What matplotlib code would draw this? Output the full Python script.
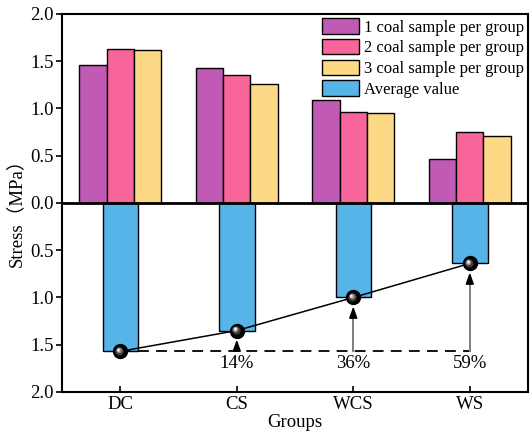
import matplotlib
matplotlib.use("Agg")
import matplotlib.pyplot as plt
import matplotlib.transforms as mtransforms
from matplotlib.ticker import FuncFormatter
import numpy as np

plt.rcParams['font.family'] = ['Liberation Serif', 'Noto Sans CJK SC']
plt.rcParams['mathtext.fontset'] = 'stix'

# data
groups = ["DC", "CS", "WCS", "WS"]
sample1 = [1.46, 1.43, 1.09, 0.47]
sample2 = [1.63, 1.35, 0.96, 0.75]
sample3 = [1.62, 1.26, 0.95, 0.71]
average = [1.57, 1.35, 1.00, 0.64]
reductions = ["14%", "36%", "59%"]

series_labels = ["1 coal sample per group", "2 coal sample per group",
                 "3 coal sample per group", "Average value"]
colors = ["#C05AB4", "#F7659B", "#FED985", "#56B4E9"]

fig = plt.figure(figsize=(5.31, 4.32), dpi=100)
ax = fig.add_axes([0.1168, 0.0926, 0.8776, 0.875])

x = np.arange(len(groups))
w = 0.235

# upper half: the three samples
for i, vals in enumerate([sample1, sample2, sample3]):
    ax.bar(x + (i - 1) * w, vals, w, color=colors[i], edgecolor="black",
           linewidth=1.0, label=series_labels[i], zorder=2)

# lower half: average value drawn downward
neg_avg = -np.array(average)
ax.bar(x, neg_avg, 0.305, color=colors[3], edgecolor="black",
       linewidth=1.0, label=series_labels[3], zorder=2)

ax.axhline(0, color="black", lw=2.0, zorder=3)

# line through the averages
ax.plot(x, neg_avg, color="black", lw=1.1, zorder=4)

# dashed reference at DC average
ax.plot([x[0], x[-1]], [neg_avg[0], neg_avg[0]], color="black", lw=1.3,
        dashes=(6, 4), zorder=3)

# arrows from the reference line up to each point
for i in range(1, len(groups)):
    tip = neg_avg[i] - 0.095
    ax.plot([x[i], x[i]], [neg_avg[0], tip - 0.05], color="#7f7f7f", lw=1.4, zorder=3)
    ax.annotate("", xy=(x[i], tip), xytext=(x[i], tip - 0.06),
                arrowprops=dict(arrowstyle="-|>,head_length=0.55,head_width=0.2",
                                color="black", lw=1.2, mutation_scale=12,
                                shrinkA=0, shrinkB=0), zorder=5)
    ax.text(x[i], -1.70, reductions[i - 1], ha="center", va="center", fontsize=13.5)

# shaded sphere markers
ax.plot(x, neg_avg, "o", color="black", ms=10, zorder=6, mec="black")
for dx, ms, c in [(-0.6, 6, "#3a3a3a"), (-1.0, 4.2, "#7a7a7a"),
                  (-1.3, 2.6, "#c8c8c8"), (-1.5, 1.4, "#ffffff")]:
    tr = mtransforms.offset_copy(ax.transData, fig=fig, x=dx, y=-dx, units="points")
    ax.plot(x, neg_avg, "o", color=c, ms=ms, mew=0, transform=tr, zorder=7)

ax.set_xlim(-0.5, 3.5)
ax.set_ylim(-2.0, 2.0)
ax.set_yticks(np.arange(-2.0, 2.01, 0.5))
ax.yaxis.set_major_formatter(FuncFormatter(lambda v, p: f"{abs(v):.1f}"))
ax.set_xticks(x)
ax.set_xticklabels(groups)
ax.tick_params(axis="y", direction="out", length=4, width=1.2, labelsize=13.5, pad=2)
ax.tick_params(axis="x", direction="in", length=4, width=1.2, labelsize=13.5, pad=3)

for s in ax.spines.values():
    s.set_linewidth(1.5)

ax.set_xlabel("Groups", fontsize=13.5)
ax.xaxis.set_label_coords(0.5, -0.058)
ax.set_ylabel("Stress（MPa）", fontsize=13.5)
ax.yaxis.set_label_coords(-0.08, 0.486)

ax.legend(loc="upper right", bbox_to_anchor=(1.0, 1.0), frameon=False,
          fontsize=12, handlelength=2.2, handleheight=1.05, handletextpad=0.3,
          labelspacing=0.2, borderaxespad=0.15, borderpad=0.1)

fig.savefig("out.png", dpi=100)
